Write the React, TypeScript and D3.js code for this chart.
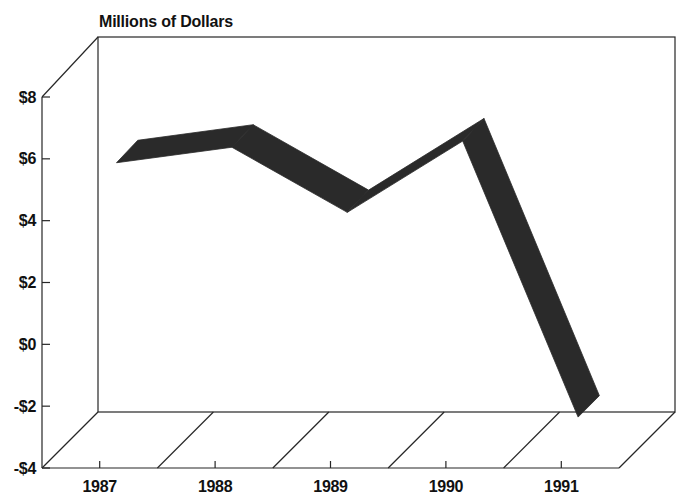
import React from "react";
import * as d3 from "d3";

// Annual results, in millions of dollars
const years = ["1987", "1988", "1989", "1990", "1991"];
const values = [5.3, 5.8, 3.7, 6.0, -2.9];
const yTicks = [-4, -2, 0, 2, 4, 6, 8];
const yTickLabels = ["-$4", "-$2", "$0", "$2", "$4", "$6", "$8"];

const W = 676;
const H = 495;
const DEPTH_X = 56;
const RIBBON_NEAR = 0.3;
const RIBBON_FAR = 0.68;

const font = "'Liberation Sans', Arial, Helvetica, sans-serif";
const ink = "#262626";

export default function App() {
  const x = d3.scaleBand<string>().domain(years).range([42, 619]);
  const yFront = d3.scaleLinear().domain([-4, 8]).range([468, 97]);
  const yBack = d3.scaleLinear().domain([-4, 8]).range([412, 37]);

  // oblique projection: t = 0 on the front plane, t = 1 on the back wall
  const project = (px: number, v: number, t: number): [number, number] => [
    px + t * DEPTH_X,
    yFront(v) * (1 - t) + yBack(v) * t,
  ];

  const x0 = x.range()[0];
  const x1 = x.range()[1];
  const lo = yTicks[0];
  const hi = yTicks[yTicks.length - 1];
  const [bx0, byTop] = project(x0, hi, 1);
  const [bx1, byBot] = project(x1, lo, 1);
  const fyBot = yFront(lo);
  const fyTop = yFront(hi);

  const centers = years.map((yr) => (x(yr) as number) + x.bandwidth() / 2);
  const near = values.map((v, i) => project(centers[i], v, RIBBON_NEAR));
  const far = values.map((v, i) => project(centers[i], v, RIBBON_FAR));

  const segments = values.slice(1).map((_, i) => [near[i], near[i + 1], far[i + 1], far[i]]);
  const poly = (pts: [number, number][]) => pts.map((p) => p.join(",")).join(" ");

  const dividers = years.map((yr) => (x(yr) as number) + x.bandwidth());

  return (
    <svg
      width={W}
      height={H}
      style={{ position: "absolute", left: 0, top: 0, background: "#fff" }}
    >
      <text x={99} y={27} fontFamily={font} fontWeight="bold" fontSize={16} fill="#111" letterSpacing={-0.2}>
        Millions of Dollars
      </text>

      <g stroke={ink} strokeWidth={1.2} fill="none">
        {/* back wall */}
        <rect x={bx0} y={byTop} width={bx1 - bx0} height={byBot - byTop} />
        {/* side wall */}
        <line x1={x0} y1={fyTop} x2={x0} y2={fyBot} />
        <line x1={x0} y1={fyTop} x2={bx0} y2={byTop} />
        <line x1={x0} y1={fyBot} x2={bx0} y2={byBot} />
        {/* floor */}
        <line x1={x0} y1={fyBot} x2={x1} y2={fyBot} />
        {dividers.map((dx, i) => {
          const [px, py] = project(dx, lo, 1);
          return <line key={i} x1={dx} y1={fyBot} x2={px} y2={py} />;
        })}
        {centers.map((c, i) => (
          <line key={"t" + i} x1={c} y1={fyBot} x2={c} y2={fyBot - 7} />
        ))}
        {yTicks.map((t) => (
          <line key={"y" + t} x1={x0} y1={yFront(t)} x2={x0 + 8} y2={yFront(t)} />
        ))}
      </g>

      <g fill="#2a2a2a" stroke="#2a2a2a" strokeWidth={0.8} strokeLinejoin="round">
        {segments.map((s, i) => (
          <polygon key={i} points={poly(s as [number, number][])} />
        ))}
      </g>

      <g fontFamily={font} fontWeight="bold" fontSize={16} fill="#111" letterSpacing={-0.3}>
        {yTicks.map((t, i) => (
          <text key={t} x={36} y={yFront(t) + 5.5} textAnchor="end">
            {yTickLabels[i]}
          </text>
        ))}
        {years.map((yr, i) => (
          <text key={yr} x={centers[i]} y={492} textAnchor="middle">
            {yr}
          </text>
        ))}
      </g>
    </svg>
  );
}
